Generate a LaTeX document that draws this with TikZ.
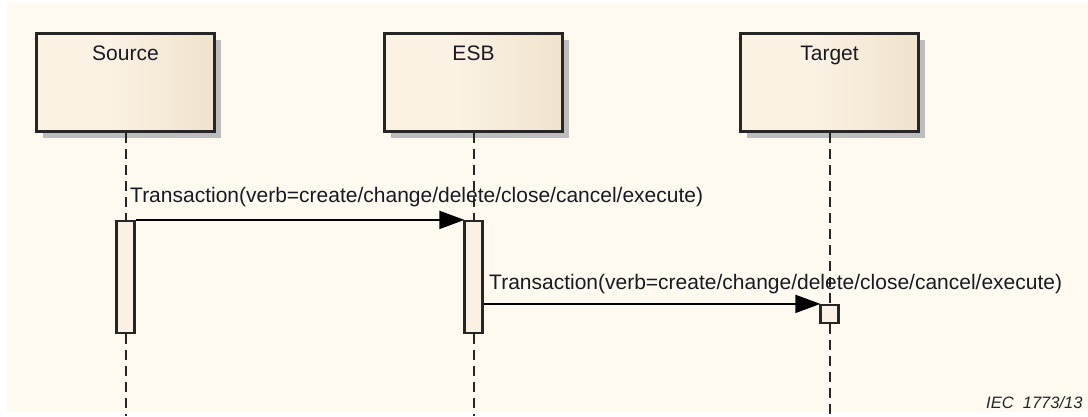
\documentclass[tikz,border=0pt]{standalone}
\usepackage{fontspec}
\setmainfont{Liberation Sans}
\usetikzlibrary{arrows.meta,shadows}
\definecolor{bgcream}{HTML}{FEFAF0}
\definecolor{boxlight}{HTML}{FBF2E4}
\definecolor{boxdark}{HTML}{E8D6B9}
\definecolor{actfill}{HTML}{FAF0E3}
\definecolor{shadowgray}{HTML}{BDBDBD}
\definecolor{inkcol}{HTML}{1A1A24}
\pgfdeclarehorizontalshading{boxshade}{100bp}{color(0bp)=(boxlight); color(45bp)=(boxlight); color(100bp)=(boxdark)}
\begin{document}
\begin{tikzpicture}[x=1pt,y=-1pt,
  lifebox/.style={draw=black!85, line width=2.4pt, shading=boxshade, minimum width=178pt, minimum height=98pt, inner sep=0pt,
     drop shadow={shadow xshift=6pt, shadow yshift=-6pt, fill=shadowgray, opacity=1}},
  boxlabel/.style={font=\fontsize{21}{24}\selectfont, text=inkcol, inner sep=0pt, anchor=base},
  actbox/.style={draw=black!85, line width=2.2pt, fill=actfill, minimum width=18pt, inner sep=0pt},
  lifeline/.style={draw=black!85, line width=2pt, dash pattern=on 10pt off 6pt},
  msg/.style={draw=black, line width=1.8pt, -{Triangle[length=25pt,width=18pt]}, shorten >=-1pt},
  msglabel/.style={font=\fontsize{21}{24}\selectfont, text=inkcol, inner sep=0pt, anchor=base west},
  note/.style={font=\fontsize{16.5}{20}\selectfont\itshape, text=black!85, inner sep=0pt, anchor=base west}]
\useasboundingbox (0,0) rectangle (1088,416);
\fill[white] (0,0) rectangle (1088,416);
\fill[bgcream] (7,3) rectangle (1088,412);
% lifeline heads
\node[lifebox] (src) at (125.5,82.5) {};
\node[lifebox] (esb) at (473.5,82.5) {};
\node[lifebox] (tgt) at (829.5,82.5) {};
\node[boxlabel] (srcl) at (125.5,60) {Source};
\node[boxlabel] (esbl) at (473.5,60) {ESB};
\node[boxlabel] (tgtl) at (829.5,60) {Target};
% bottoms
\coordinate (srcend) at (125.5,416);
\coordinate (esbend) at (473.5,416);
\coordinate (tgtend) at (829.5,416);
% activations
\node[actbox, minimum height=112pt] (srca) at (125.5,277) {};
\node[actbox, minimum height=112pt] (esba) at (473.5,277) {};
\node[actbox, minimum height=18pt] (tgta) at (829.5,314) {};
% lifelines
\draw[lifeline] (src.south) -- (srca.north);
\draw[lifeline] (srca.south) -- (srcend);
\draw[lifeline] (esb.south) -- (esba.north);
\draw[lifeline] (esba.south) -- (esbend);
\draw[lifeline] (tgt.south) -- (tgta.north);
\draw[lifeline] (tgta.south) -- (tgtend);
% messages
\draw[msg] (srca.north east) -- (esba.north west);
\node[msglabel] (m1) at (130,202) {Transaction(verb=create/change/delete/close/cancel/execute)};
\draw[msg] (esba.east |- tgta.north) -- (tgta.north west);
\node[msglabel] (m2) at (489,289) {Transaction(verb=create/change/delete/close/cancel/execute)};
% note
\node[note] (iec) at (986,408) {IEC\ \ 1773/13};
\end{tikzpicture}
\end{document}
